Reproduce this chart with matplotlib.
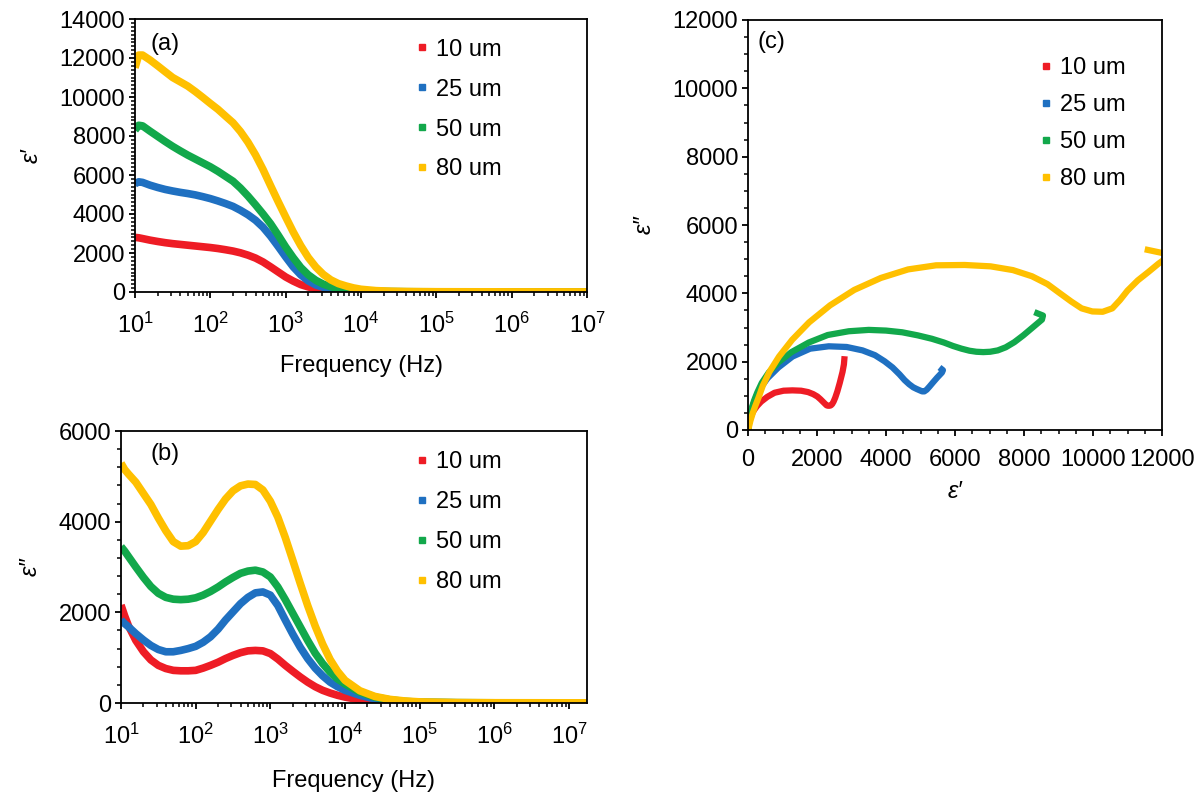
import matplotlib
matplotlib.use('Agg')
import matplotlib.pyplot as plt
from matplotlib.lines import Line2D
from matplotlib.ticker import MultipleLocator, LogLocator, NullFormatter

plt.rcParams['font.family'] = ['Liberation Sans', 'DejaVu Sans']
plt.rcParams['mathtext.fontset'] = 'custom'
plt.rcParams['mathtext.rm'] = 'Liberation Sans'

# frequency grid (Hz)
freq = [10, 11.2, 12.6, 15.8, 20, 25.1, 31.6, 39.8, 50.1, 63.1, 79.4,
        100, 126, 158, 200, 251, 316, 398, 501, 631, 794,
        1000, 1259, 1585, 1995, 2512, 3162, 3981, 5012, 6310, 7943,
        1e4, 1.58e4, 2.51e4, 3.98e4, 6.31e4, 1e5, 3.16e5, 1e6, 3.16e6, 1e7, 1.74e7]

labels = ['10 um', '25 um', '50 um', '80 um']
colors = ['#EE1C25', '#1F70C1', '#12A84B', '#FFC000']

# real permittivity eps'
eps1_10 = [2800, 2780, 2740, 2660, 2590, 2530, 2480, 2440, 2400, 2360, 2320,
           2280, 2230, 2170, 2100, 2010, 1890, 1740, 1540, 1290, 1030,
           770, 560, 380, 260, 170, 110, 75, 50, 35, 25,
           18, 10, 6, 4, 3, 2, 2, 2, 2, 2, 2]
eps1_25 = [5550, 5650, 5620, 5480, 5360, 5260, 5180, 5110, 5050, 4980, 4890,
           4790, 4670, 4540, 4390, 4190, 3960, 3680, 3320, 2860, 2340,
           1800, 1290, 880, 570, 360, 240, 160, 110, 80, 55,
           40, 22, 14, 10, 8, 6, 5, 4, 4, 4, 4]
eps1_50 = [8300, 8550, 8520, 8250, 7980, 7720, 7470, 7240, 7020, 6820, 6620,
           6420, 6190, 5940, 5680, 5330, 4920, 4470, 4000, 3500, 2920,
           2310, 1760, 1260, 880, 600, 400, 270, 180, 120, 80,
           55, 30, 20, 14, 11, 9, 7, 6, 5, 5, 5]
eps1_80 = [11500, 12150, 12150, 11900, 11600, 11300, 11000, 10780, 10560, 10280, 9980,
           9670, 9370, 9030, 8680, 8230, 7680, 7030, 6280, 5450, 4640,
           3850, 3080, 2380, 1770, 1280, 900, 620, 430, 310, 210,
           140, 70, 40, 25, 18, 14, 10, 8, 7, 6, 6]

# imaginary permittivity eps''
eps2_10 = [2160, 1920, 1700, 1380, 1130, 950, 830, 760, 720, 710, 710,
           720, 770, 830, 900, 980, 1050, 1110, 1150, 1160, 1150,
           1090, 970, 830, 700, 575, 460, 360, 280, 220, 170,
           130, 70, 35, 16, 8, 4, 2, 1, 1, 1, 1]
eps2_25 = [1830, 1750, 1680, 1530, 1390, 1270, 1180, 1130, 1130, 1160, 1200,
           1250, 1340, 1460, 1630, 1830, 2010, 2190, 2330, 2430, 2450,
           2380, 2150, 1830, 1520, 1230, 980, 770, 600, 460, 360,
           280, 170, 90, 45, 22, 12, 5, 3, 2, 2, 2]
eps2_50 = [3450, 3350, 3230, 3000, 2770, 2570, 2420, 2330, 2290, 2280, 2290,
           2320, 2380, 2460, 2560, 2670, 2770, 2860, 2910, 2930, 2890,
           2780, 2560, 2280, 1980, 1680, 1380, 1100, 870, 680, 530,
           420, 240, 130, 70, 35, 18, 7, 4, 3, 3, 3]
eps2_80 = [5290, 5150, 5050, 4870, 4620, 4380, 4080, 3800, 3560, 3460, 3470,
           3560, 3760, 4010, 4270, 4500, 4680, 4790, 4830, 4820, 4700,
           4450, 4100, 3650, 3150, 2640, 2150, 1700, 1300, 960, 700,
           500, 270, 145, 80, 45, 25, 10, 6, 5, 4, 4]

eps1 = [eps1_10, eps1_25, eps1_50, eps1_80]
eps2 = [eps2_10, eps2_25, eps2_50, eps2_80]

FS = 17
fig = plt.figure(figsize=(12.03, 7.94), dpi=100)

ax_a = fig.add_axes([135 / 1203, 1 - 292 / 794, 452 / 1203, 273 / 794])
ax_b = fig.add_axes([121 / 1203, 1 - 703 / 794, 466 / 1203, 272 / 794])
ax_c = fig.add_axes([748 / 1203, 1 - 430 / 794, 414 / 1203, 410 / 794])


def style(ax, xpad):
    for s in ax.spines.values():
        s.set_linewidth(1.3)
    ax.tick_params(which='major', direction='out', length=4, width=1.3,
                   labelsize=FS)
    ax.tick_params(which='minor', direction='out', length=3, width=1.1)
    ax.tick_params(axis='x', which='major', pad=xpad)
    ax.tick_params(axis='y', which='major', pad=3)


def log_x(ax):
    ax.set_xscale('log')
    ax.xaxis.set_major_locator(LogLocator(base=10, numticks=20))
    ax.xaxis.set_minor_locator(LogLocator(base=10, subs=[2, 3, 4, 5, 6, 7, 8, 9], numticks=20))
    ax.xaxis.set_minor_formatter(NullFormatter())


def add_legend(ax, x0, y0, spacing):
    handles = [Line2D([0], [0], marker='s', ls='none', color=c, ms=5)
               for c in colors]
    ax.legend(handles, labels, loc='upper left', bbox_to_anchor=(x0, y0),
              frameon=False, fontsize=FS, handlelength=0.6, handletextpad=0.3,
              labelspacing=spacing, borderpad=0, borderaxespad=0)


# (a) eps' vs frequency
for y, c in zip(eps1, colors):
    ax_a.plot(freq, y, color=c, lw=5.5, solid_capstyle='butt')
log_x(ax_a)
ax_a.set_xlim(10, 1e7)
ax_a.set_ylim(0, 14000)
ax_a.yaxis.set_major_locator(MultipleLocator(2000))
ax_a.yaxis.set_minor_locator(MultipleLocator(200))
style(ax_a, 11)
ax_a.set_xlabel('Frequency (Hz)', fontsize=FS, labelpad=12)
ax_a.set_ylabel('ε′', fontsize=FS, style='italic', labelpad=12)
ax_a.text(0.035, 0.908, '(a)', transform=ax_a.transAxes, fontsize=FS, va='center')
add_legend(ax_a, 0.619, 0.928, 0.76)

# (b) eps'' vs frequency
for y, c in zip(eps2, colors):
    ax_b.plot(freq, y, color=c, lw=5.5, solid_capstyle='butt')
log_x(ax_b)
ax_b.set_xlim(10, 1.74e7)
ax_b.set_ylim(0, 6000)
ax_b.yaxis.set_major_locator(MultipleLocator(2000))
ax_b.yaxis.set_minor_locator(MultipleLocator(400))
style(ax_b, 11)
ax_b.set_xlabel('Frequency (Hz)', fontsize=FS, labelpad=15)
ax_b.set_ylabel('ε″', fontsize=FS, style='italic', labelpad=12)
ax_b.text(0.064, 0.915, '(b)', transform=ax_b.transAxes, fontsize=FS, va='center')
add_legend(ax_b, 0.631, 0.925, 0.76)

# (c) Cole-Cole: eps'' vs eps'
for x, y, c in zip(eps1, eps2, colors):
    ax_c.plot(x, y, color=c, lw=4.5, solid_capstyle='butt')
ax_c.set_xlim(0, 12000)
ax_c.set_ylim(0, 12000)
for axis in (ax_c.xaxis, ax_c.yaxis):
    axis.set_major_locator(MultipleLocator(2000))
    axis.set_minor_locator(MultipleLocator(500))
style(ax_c, 10)
ax_c.set_xlabel('ε′', fontsize=FS, style='italic', labelpad=6)
ax_c.set_ylabel('ε″', fontsize=FS, style='italic', labelpad=12)
ax_c.text(0.022, 0.946, '(c)', transform=ax_c.transAxes, fontsize=FS, va='center')
add_legend(ax_c, 0.703, 0.91, 0.64)

fig.savefig('out.png', dpi=100)
